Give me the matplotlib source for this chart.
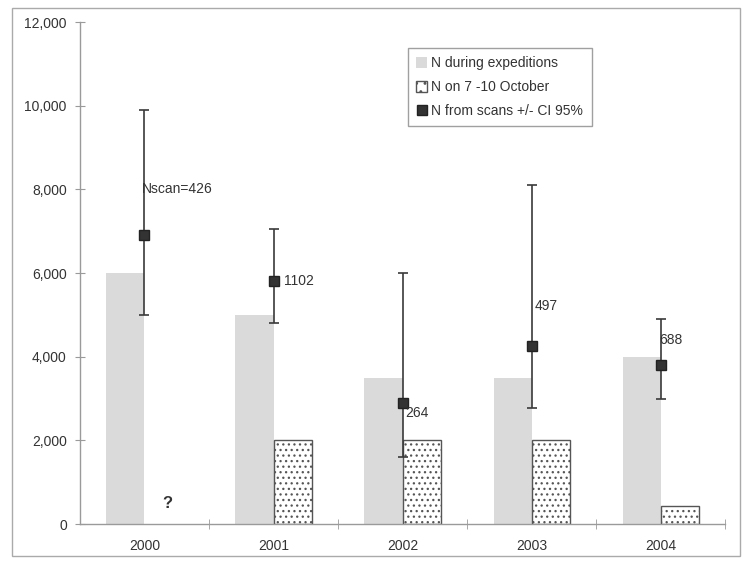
import matplotlib
matplotlib.use("Agg")
import matplotlib.pyplot as plt
from matplotlib.patches import Rectangle, Patch
from matplotlib.lines import Line2D
from matplotlib.ticker import FuncFormatter, FixedLocator
import numpy as np

plt.rcParams['font.family'] = ['Liberation Sans', 'DejaVu Sans']
plt.rcParams['hatch.linewidth'] = 0.9

years = ["2000", "2001", "2002", "2003", "2004"]
n_expeditions = [6000, 5000, 3500, 3500, 4000]
n_october = [np.nan, 2000, 2000, 2000, 430]
n_scans = [6900, 5800, 2900, 4250, 3800]
ci_low = [5000, 4800, 1600, 2780, 3000]
ci_high = [9900, 7050, 6000, 8100, 4900]
scan_counts = ["Nscan=426", "1102", "264", "497", "688"]
label_y = [8000, 5800, 2650, 5200, 4400]

fig = plt.figure(figsize=(7.46, 5.64), dpi=100)
ax = fig.add_axes([0.1072, 0.0709, 0.8648, 0.890])

x = np.arange(len(years))
w = 0.295
gray = "#dadada"
axis_col = "#9a9a9a"
txt_col = "#333333"

ax.bar(x - w / 2, n_expeditions, width=w, color=gray, edgecolor="none", zorder=1)
octo = np.array(n_october, dtype=float)
mask = ~np.isnan(octo)
ax.bar(x[mask] + w / 2, octo[mask], width=w, facecolor="white",
       edgecolor="#555555", hatch="...", linewidth=1.0, zorder=2)

yerr = [np.array(n_scans) - np.array(ci_low), np.array(ci_high) - np.array(n_scans)]
ax.errorbar(x, n_scans, yerr=yerr, fmt="s", color="#333333", ecolor="#3a3a3a",
            elinewidth=1.2, capsize=3.5, capthick=1.2, markersize=7.5,
            markeredgecolor="#222222", zorder=4)

offsets = [-0.02, 0.085, 0.02, 0.02, -0.01]
for i, (lab, ly) in enumerate(zip(scan_counts, label_y)):
    ax.text(x[i] + offsets[i], ly, lab, fontsize=10, color=txt_col,
            ha="left", va="center", zorder=5)

ax.text(x[0] + w / 2 + 0.03, 500, "?", fontsize=12, fontweight="bold",
        color=txt_col, ha="center", va="center")

ax.set_xlim(-0.5, len(years) - 0.5)
ax.set_ylim(0, 12000)
ax.yaxis.set_major_locator(FixedLocator(np.arange(0, 12001, 2000)))
ax.yaxis.set_major_formatter(FuncFormatter(lambda v, p: f"{int(v):,}"))
ax.set_xticks(x)
ax.set_xticklabels(years)
ax.xaxis.set_minor_locator(FixedLocator(x + 0.5))
ax.tick_params(axis="x", which="major", length=0, pad=11, labelsize=10, labelcolor=txt_col)
ax.tick_params(axis="x", which="minor", length=7, direction="inout", color=axis_col)
ax.tick_params(axis="y", which="major", length=7, direction="inout", color=axis_col,
               labelsize=10, labelcolor=txt_col, pad=6)

for s in ("top", "right"):
    ax.spines[s].set_visible(False)
for s in ("left", "bottom"):
    ax.spines[s].set_color(axis_col)
    ax.spines[s].set_linewidth(1.0)

handles = [
    Patch(facecolor=gray, edgecolor="none", label="N during expeditions"),
    Patch(facecolor="white", edgecolor="#555555", hatch="..", label="N on 7 -10 October"),
    Line2D([], [], marker="s", linestyle="none", color="#333333",
           markeredgecolor="#222222", markersize=7.5, label="N from scans +/- CI 95%"),
]
leg = ax.legend(handles=handles, loc="upper left", bbox_to_anchor=(0.508, 0.948),
                borderaxespad=0, fontsize=10, frameon=True, fancybox=False,
                handlelength=0.8, handleheight=0.8, handletextpad=0.3, borderpad=0.6,
                labelspacing=0.7, labelcolor=txt_col)
leg.get_frame().set_edgecolor("#888888")
leg.get_frame().set_linewidth(1.0)

fig.patches.append(Rectangle((12 / 746, 8 / 564), 728 / 746, 548 / 564,
                             transform=fig.transFigure, fill=False,
                             edgecolor="#aaaaaa", linewidth=1.0))

fig.savefig("out.png", dpi=100, facecolor="white")
